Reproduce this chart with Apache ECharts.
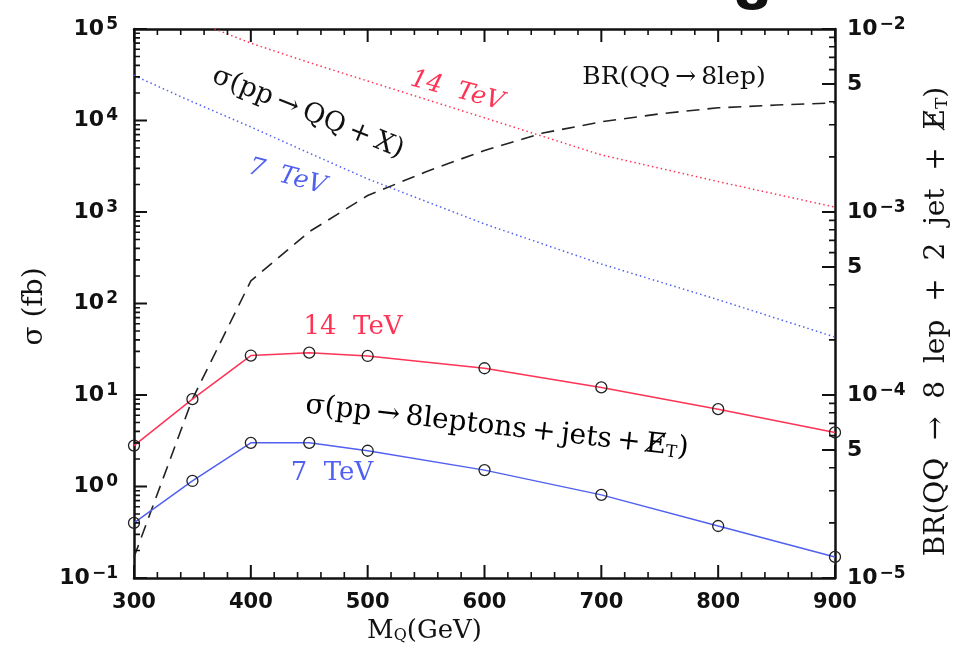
<!DOCTYPE html>
<html>
<head>
<meta charset="utf-8">
<script src="https://cdn.jsdelivr.net/npm/echarts@6/dist/echarts.min.js"></script>
<style>
  html, body { margin: 0; background: #fff; }
  #chart { width: 969px; height: 657px; }
</style>
</head>
<body>
<div id="chart"></div>
<script>
// heavy-quark mass points (GeV) with the 8-lepton cross sections (fb)
const mass = [300, 350, 400, 450, 500, 600, 700, 800, 900];
const sigma8lep14 = [2.8, 9.0, 27, 29, 26.7, 19.6, 12.1, 7.0, 3.9];
const sigma8lep7 = [0.40, 1.15, 3.0, 3.0, 2.46, 1.51, 0.81, 0.37, 0.17];

// total pair production pp -> QQ + X (fb)
const totalMass = [300, 350, 400, 450, 500, 600, 700, 800, 900];
const sigmaTotal14 = [2.1e5, 1.25e5, 7.0e4, 4.3e4, 2.7e4, 1.07e4, 4.2e3, 2.15e3, 1.13e3];
const sigmaTotal7 = [3.1e4, 1.6e4, 8.5e3, 4.4e3, 2.3e3, 7.4e2, 2.7e2, 1.1e2, 43];

// branching ratio QQ -> 8 lep (right axis)
const brMass = [300, 350, 400, 450, 500, 550, 600, 650, 700, 750, 800, 850, 900];
const brValues = [1.3e-5, 9.5e-5, 4.2e-4, 7.8e-4, 1.23e-3, 1.66e-3, 2.17e-3, 2.70e-3, 3.11e-3, 3.44e-3, 3.71e-3, 3.84e-3, 3.95e-3];

// tick labels
const leftMajor = [0.1, 1, 10, 100, 1000, 10000, 100000];
const rightMajor = [1e-5, 5e-5, 1e-4, 5e-4, 1e-3, 5e-3, 1e-2];

const red = "#ff3355";
const blue = "#5060f0";
const ink = "#111";
const thin = "\u2009";
const MAJOR = 13;
const MINOR = 6;

const grid = { left: 134, right: 134, top: 29, bottom: 79 };
const plotW = 969 - grid.left - grid.right;
const plotH = 657 - grid.top - grid.bottom;

function minorTicks(fromExp, toExp, skip) {
  const out = [];
  for (let e = fromExp; e < toExp; e++) {
    for (let m = 2; m <= 9; m++) {
      if (skip.indexOf(m) < 0) out.push(m * Math.pow(10, e));
    }
  }
  return out;
}

// tick positions
const xMajorTicks = [300, 400, 500, 600, 700, 800, 900];
const xMinorTicks = [];
for (let m = 320; m < 900; m += 20) if (m % 100 !== 0) xMinorTicks.push(m);
const leftMinor = minorTicks(-1, 5, []);
const rightMinor = minorTicks(-5, -2, [5]);

const labelRich = {
  b: { fontFamily: "DejaVu Sans", fontWeight: "bold", fontSize: 22, lineHeight: 26, color: ink },
  s: { fontFamily: "DejaVu Sans", fontWeight: "bold", fontSize: 17, lineHeight: 15, verticalAlign: "top", color: ink, padding: [0, 0, 0, 2] }
};

function powerLabel(v) {
  const e = Math.floor(Math.log10(v) + 1e-9);
  const m = Math.round(v / Math.pow(10, e));
  if (m === 5) return "{b|5}";
  return "{b|10}{s|" + (e < 0 ? "\u2212" + -e : e) + "}";
}

function serifRich(size) {
  return {
    n: { fontFamily: "DejaVu Serif", fontSize: size, color: ink },
    sub: { fontFamily: "DejaVu Serif", fontSize: Math.round(size * 0.62), color: ink, verticalAlign: "bottom", lineHeight: size - 2 }
  };
}

function frame() {
  return { show: true, lineStyle: { color: ink, width: 2.5 } };
}

function xAxis(position, showLabel) {
  return {
    type: "value",
    position: position,
    min: 300,
    max: 900,
    interval: 100,
    axisLine: frame(),
    axisTick: { show: false },
    splitLine: { show: false },
    axisLabel: {
      show: showLabel,
      margin: 14,
      fontFamily: "DejaVu Sans",
      fontWeight: "bold",
      fontSize: 21,
      color: ink
    }
  };
}

function logAxis(position, min, max, extra) {
  return Object.assign({
    type: "log",
    logBase: 10,
    position: position,
    min: min,
    max: max,
    axisTick: { show: false },
    splitLine: { show: false }
  }, extra);
}

// inward tick marks as short line segments, split by gaps
const GAP = [NaN, NaN];
function xTickData(values, len) {
  const k = Math.pow(10, len * 6 / plotH); // pixel length on the 6-decade left axis
  const out = [];
  values.forEach((v) => {
    out.push([v, 0.1], [v, 0.1 * k], GAP, [v, 1e5], [v, 1e5 / k], GAP);
  });
  return out;
}
function yTickData(values, len, atX, dir) {
  const dx = dir * len * 600 / plotW;
  const out = [];
  values.forEach((v) => out.push([atX, v], [atX + dx, v], GAP));
  return out;
}
function tickSeries(data, yAxisIndex, width) {
  return {
    type: "line",
    yAxisIndex: yAxisIndex,
    data: data,
    symbol: "none",
    showSymbol: false,
    connectNulls: false,
    silent: true,
    z: 5,
    lineStyle: { color: ink, width: width }
  };
}

const chart = echarts.init(document.getElementById("chart"));

chart.setOption({
  animation: false,
  grid: grid,
  xAxis: [
    Object.assign(xAxis("bottom", true), {
      name: "{n|M}{sub|Q}{n|(GeV)}",
      nameLocation: "middle",
      nameGap: 40,
      nameTextStyle: { rich: serifRich(26), padding: [0, 120, 0, 0] }
    }),
    xAxis("top", false)
  ],
  yAxis: [
    logAxis("left", 0.1, 1e5, {
      axisLine: frame(),
      axisLabel: { show: true, margin: 16, customValues: leftMajor, formatter: powerLabel, rich: labelRich },
      name: "\u03c3 (fb)",
      nameLocation: "middle",
      nameRotate: 90,
      nameGap: 80,
      nameTextStyle: { fontFamily: "DejaVu Serif", fontSize: 28, color: ink, padding: [0, 6, 0, 0] }
    }),
    logAxis("right", 1e-5, 1e-2, {
      axisLine: frame(),
      axisLabel: { show: true, margin: 12, customValues: rightMajor, formatter: powerLabel, rich: labelRich },
      name: "{n|BR(QQ  \u2192  8  lep  +  2  jet  +  E\u0338}{sub|T}{n|)}",
      nameLocation: "middle",
      nameRotate: 90,
      nameGap: 88,
      nameTextStyle: { rich: serifRich(28), padding: [0, 36, 0, 0] }
    })
  ],
  series: [
    {
      name: "total 14 TeV",
      type: "line",
      yAxisIndex: 0,
      showSymbol: false,
      data: totalMass.map((m, i) => [m, sigmaTotal14[i]]),
      lineStyle: { color: red, width: 1.5, type: [1.5, 3] }
    },
    {
      name: "total 7 TeV",
      type: "line",
      yAxisIndex: 0,
      showSymbol: false,
      data: totalMass.map((m, i) => [m, sigmaTotal7[i]]),
      lineStyle: { color: blue, width: 1.5, type: [1.5, 3] }
    },
    {
      name: "BR",
      type: "line",
      yAxisIndex: 1,
      showSymbol: false,
      data: brMass.map((m, i) => [m, brValues[i]]),
      lineStyle: { color: "#222", width: 1.6, type: [13, 8] }
    },
    {
      name: "8 leptons 14 TeV",
      type: "line",
      yAxisIndex: 0,
      data: mass.map((m, i) => [m, sigma8lep14[i]]),
      lineStyle: { color: red, width: 1.5 },
      symbol: "circle",
      symbolSize: 11,
      itemStyle: { color: "rgba(255,255,255,0)", borderColor: "#222", borderWidth: 1.3 }
    },
    {
      name: "8 leptons 7 TeV",
      type: "line",
      yAxisIndex: 0,
      data: mass.map((m, i) => [m, sigma8lep7[i]]),
      lineStyle: { color: blue, width: 1.5 },
      symbol: "circle",
      symbolSize: 11,
      itemStyle: { color: "rgba(255,255,255,0)", borderColor: "#222", borderWidth: 1.3 }
    },
    tickSeries(xTickData(xMajorTicks, MAJOR), 0, 2),
    tickSeries(xTickData(xMinorTicks, MINOR), 0, 1.6),
    tickSeries(yTickData(leftMajor, MAJOR, 300, 1), 0, 2),
    tickSeries(yTickData(leftMinor, MINOR, 300, 1), 0, 1.6),
    tickSeries(yTickData(rightMajor, MAJOR, 900, -1), 1, 2),
    tickSeries(yTickData(rightMinor, MINOR, 900, -1), 1, 1.6)
  ],
  graphic: [
    { type: "text", x: 752, y: -5, style: { text: "8", font: 'bold 54px "DejaVu Sans"', fill: ink, align: "center", verticalAlign: "middle" } },
    { type: "text", x: 308, y: 113, rotation: -22 * Math.PI / 180,
      style: { text: "\u03c3(pp" + thin + "\u2192" + thin + "QQ" + thin + "+" + thin + "X)", font: '27px "DejaVu Serif"', fill: ink, align: "center", verticalAlign: "middle" } },
    { type: "text", x: 457, y: 91, rotation: -15 * Math.PI / 180,
      style: { text: "14  TeV", font: 'italic 25px "DejaVu Serif"', fill: red, align: "center", verticalAlign: "middle" } },
    { type: "text", x: 287, y: 177, rotation: -15 * Math.PI / 180,
      style: { text: "7  TeV", font: 'italic 25px "DejaVu Serif"', fill: blue, align: "center", verticalAlign: "middle" } },
    { type: "text", x: 674, y: 77,
      style: { text: "BR(QQ" + thin + "\u2192" + thin + "8lep)", font: '25px "DejaVu Serif"', fill: ink, align: "center", verticalAlign: "middle" } },
    { type: "text", x: 353, y: 327,
      style: { text: "14  TeV", font: '26px "DejaVu Serif"', fill: red, align: "center", verticalAlign: "middle" } },
    { type: "text", x: 497, y: 427, rotation: -6.5 * Math.PI / 180,
      style: {
        text: "{n|\u03c3(pp" + thin + "\u2192" + thin + "8leptons" + thin + "+" + thin + "jets" + thin + "+" + thin + "E\u0338}{sub|T}{n|)}",
        rich: serifRich(28), align: "center", verticalAlign: "middle"
      } },
    { type: "text", x: 332, y: 473,
      style: { text: "7  TeV", font: '26px "DejaVu Serif"', fill: blue, align: "center", verticalAlign: "middle" } }
  ]
});
</script>
</body>
</html>
